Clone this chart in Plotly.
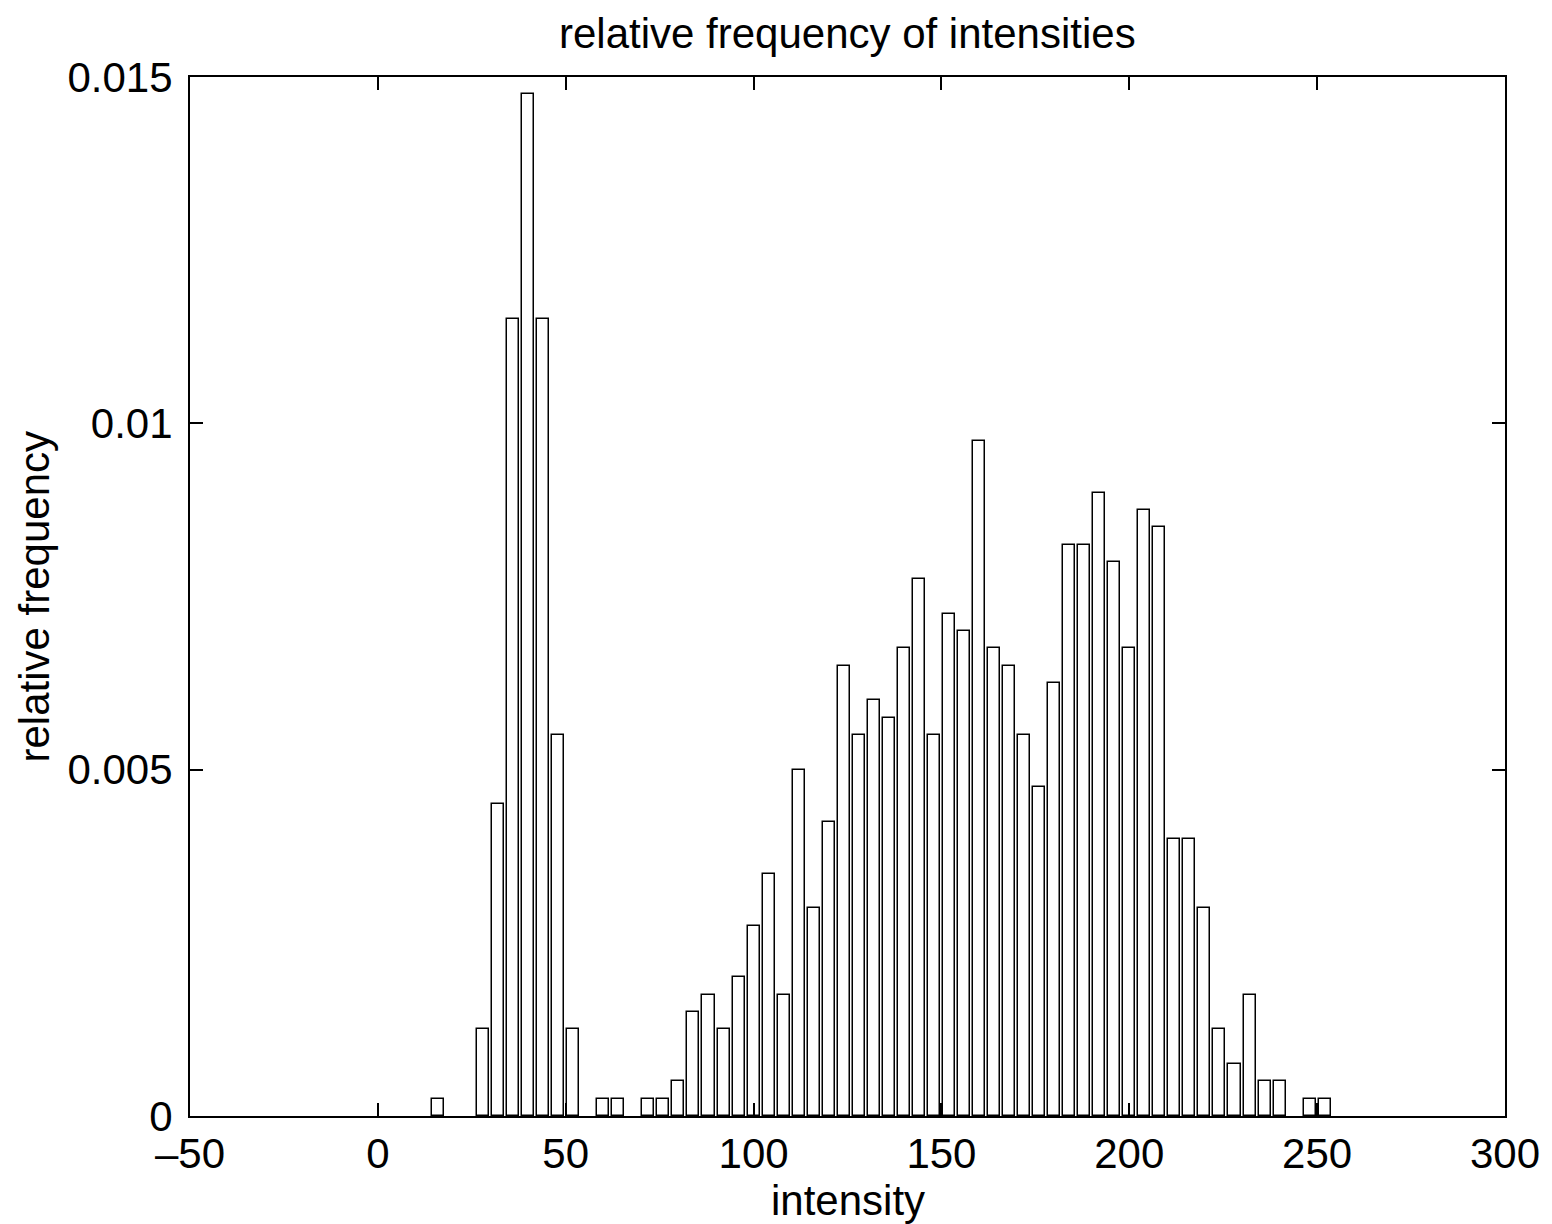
import plotly.graph_objects as go

# Bin centres (intensity) and relative frequency
intensity = [0, 4, 8, 12, 16, 20, 24, 28, 32, 36, 40, 44, 48, 52, 56, 60,
             64, 68, 72, 76, 80, 84, 88, 92, 96, 100, 104, 108, 112, 116, 120, 124,
             128, 132, 136, 140, 144, 148, 152, 156, 160, 164, 168, 172, 176, 180, 184, 188,
             192, 196, 200, 204, 208, 212, 216, 220, 224, 228, 232, 236, 240, 244, 248, 252]
rel_freq = [0, 0, 0, 0, 0.00025, 0, 0, 0.00125, 0.0045, 0.0115, 0.01475, 0.0115, 0.0055, 0.00125, 0, 0.00025,
            0.00025, 0, 0.00025, 0.00025, 0.0005, 0.0015, 0.00175, 0.00125, 0.002, 0.00275, 0.0035, 0.00175, 0.005, 0.003, 0.00425, 0.0065,
            0.0055, 0.006, 0.00575, 0.00675, 0.00775, 0.0055, 0.00725, 0.007, 0.00975, 0.00675, 0.0065, 0.0055, 0.00475, 0.00625, 0.00825, 0.00825,
            0.009, 0.008, 0.00675, 0.00875, 0.0085, 0.004, 0.004, 0.003, 0.00125, 0.00075, 0.00175, 0.0005, 0.0005, 0, 0.00025, 0.00025]

x_ticks = [-50, 0, 50, 100, 150, 200, 250, 300]
x_tick_text = ["\u201350", "0", "50", "100", "150", "200", "250", "300"]
y_ticks = [0, 0.005, 0.01, 0.015]
y_tick_text = ["0", "0.005", "0.01", "0.015"]

FONT = "Liberation Sans, Arial, Helvetica, sans-serif"
FS = 42

# empty bins draw nothing (as in the reference)
bx = [x for x, v in zip(intensity, rel_freq) if v > 0]
by = [v for v in rel_freq if v > 0]

fig = go.Figure()
fig.add_trace(go.Bar(
    x=bx, y=by, width=3.2,
    marker=dict(color="white", line=dict(color="black", width=1.5)),
    showlegend=False,
))

axis_common = dict(
    showgrid=False, zeroline=False,
    showline=True, linecolor="black", linewidth=2, mirror="ticks",
    ticks="inside", ticklen=13, tickwidth=1.5, tickcolor="black",
    tickfont=dict(family=FONT, size=FS, color="black"),
)

fig.update_layout(
    width=1552, height=1224,
    margin=dict(l=190, r=43, t=77, b=108),
    paper_bgcolor="white", plot_bgcolor="white",
    font=dict(family=FONT, size=FS, color="black"),
    bargap=0,
    xaxis=dict(range=[-50, 300], tickvals=x_ticks, ticktext=x_tick_text,
               ticklabelstandoff=0, **axis_common),
    yaxis=dict(range=[0, 0.015], tickvals=y_ticks, ticktext=y_tick_text,
               ticklabelstandoff=7, **axis_common),
    annotations=[
        dict(text="relative frequency of intensities", xref="paper", yref="paper",
             x=0.5, y=1, yshift=44, xanchor="center", yanchor="middle",
             showarrow=False, font=dict(family=FONT, size=FS, color="black")),
        dict(text="intensity", xref="paper", yref="paper",
             x=0.5, y=0, yshift=-84, xanchor="center", yanchor="middle",
             showarrow=False, font=dict(family=FONT, size=FS, color="black")),
        dict(text="relative frequency", xref="paper", yref="paper",
             x=0, y=0.5, xshift=-156, textangle=-90, xanchor="center", yanchor="middle",
             showarrow=False, font=dict(family=FONT, size=FS, color="black")),
    ],
)

fig.write_html("out.html", config={"displayModeBar": False},
               post_script="document.body.style.margin='0';document.body.style.padding='0';")
